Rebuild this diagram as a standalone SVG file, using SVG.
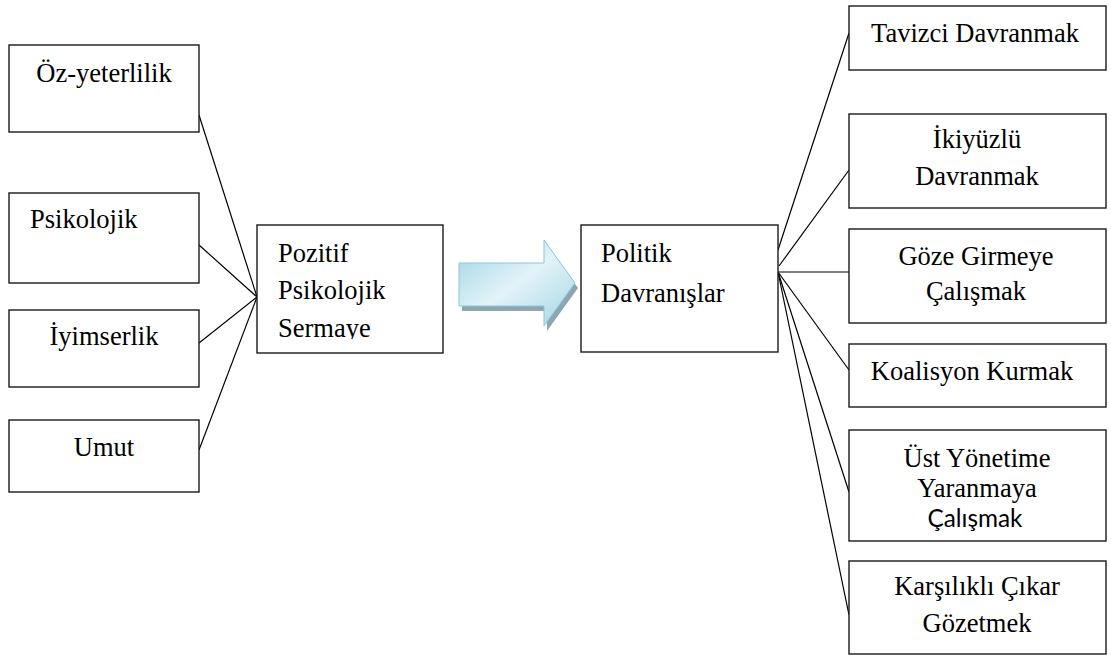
<svg xmlns="http://www.w3.org/2000/svg" width="1111" height="655" viewBox="0 0 1111 655">
  <style>
    .box { fill: #ffffff; stroke: #1a1a1a; stroke-width: 1.4; }
    .lnk { stroke: #000000; stroke-width: 1.2; fill: none; }
    .t { font-family: "Liberation Serif", "Times New Roman", serif; font-size: 26.5px; fill: #000000; }
    .c { text-anchor: middle; }
    .s { font-family: Lato, "Open Sans", "Liberation Sans", sans-serif; font-size: 25px; fill: #000000; text-anchor: middle; }
  </style>
  <defs>
    <linearGradient id="arrowFill" x1="0" y1="0" x2="1" y2="1">
      <stop offset="0" stop-color="#9fd3e4"/>
      <stop offset="0.5" stop-color="#e3f3f8"/>
      <stop offset="1" stop-color="#a3d5e5"/>
    </linearGradient>
    <clipPath id="sermayeClip">
      <rect x="258" y="226" width="184" height="113"/>
    </clipPath>
  </defs>

  <!-- connectors -->
  <g id="connectors">
    <line class="lnk" x1="199" y1="115" x2="257" y2="297"/>
    <line class="lnk" x1="199" y1="245" x2="257" y2="297"/>
    <line class="lnk" x1="199" y1="343" x2="257" y2="297"/>
    <line class="lnk" x1="199" y1="450" x2="257" y2="297"/>

    <line class="lnk" x1="778" y1="250" x2="849" y2="33"/>
    <line class="lnk" x1="779" y1="266" x2="849" y2="170"/>
    <line class="lnk" x1="778" y1="272" x2="849" y2="272"/>
    <line class="lnk" x1="778" y1="272" x2="849" y2="370"/>
    <line class="lnk" x1="778" y1="272" x2="849" y2="492"/>
    <line class="lnk" x1="778" y1="272" x2="849" y2="615"/>
  </g>

  <!-- block arrow between the two main boxes -->
  <g id="flow-arrow">
    <polygon points="462,268 547,268 547,245 578,288 547,331 547,311 462,311" fill="#8ea6b0"/>
    <polygon points="459,263 544,263 544,240 575,283 544,326 544,306 459,306" fill="url(#arrowFill)" stroke="#8cc7da" stroke-width="1"/>
  </g>

  <!-- left-hand components -->
  <g id="oz-yeterlilik">
    <rect class="box" x="9" y="45" width="190" height="87"/>
    <text class="t c" x="104" y="82">Öz-yeterlilik</text>
  </g>
  <g id="psikolojik">
    <rect class="box" x="9" y="193" width="190" height="90"/>
    <text class="t" x="30" y="228">Psikolojik</text>
  </g>
  <g id="iyimserlik">
    <rect class="box" x="9" y="310" width="190" height="77"/>
    <text class="t c" x="104" y="345">İyimserlik</text>
  </g>
  <g id="umut">
    <rect class="box" x="9" y="420" width="190" height="72"/>
    <text class="t c" x="104" y="456">Umut</text>
  </g>

  <!-- central boxes -->
  <g id="pozitif-psikolojik-sermaye">
    <rect class="box" x="257" y="225" width="186" height="128"/>
    <text class="t" x="278" y="262">Pozitif</text>
    <text class="t" x="278" y="299">Psikolojik</text>
    <g clip-path="url(#sermayeClip)">
      <text class="t" x="278" y="337">Sermaye</text>
    </g>
  </g>
  <g id="politik-davranislar">
    <rect class="box" x="581" y="225" width="197" height="127"/>
    <text class="t" x="601" y="262">Politik</text>
    <text class="t" x="601" y="302">Davranışlar</text>
  </g>

  <!-- right-hand behaviours -->
  <g id="tavizci">
    <rect class="box" x="849" y="6" width="257" height="64"/>
    <text class="t c" x="975" y="42">Tavizci Davranmak</text>
  </g>
  <g id="ikiyuzlu">
    <rect class="box" x="849" y="114" width="257" height="94"/>
    <text class="t c" x="977" y="148">İkiyüzlü</text>
    <text class="t c" x="977" y="185">Davranmak</text>
  </g>
  <g id="goze-girmeye">
    <rect class="box" x="849" y="229" width="257" height="94"/>
    <text class="t c" x="976" y="265">Göze Girmeye</text>
    <text class="t c" x="976" y="300">Çalışmak</text>
  </g>
  <g id="koalisyon">
    <rect class="box" x="849" y="344" width="257" height="63"/>
    <text class="t c" x="972" y="380">Koalisyon Kurmak</text>
  </g>
  <g id="ust-yonetime">
    <rect class="box" x="849" y="430" width="257" height="111"/>
    <text class="t c" x="977" y="467">Üst Yönetime</text>
    <text class="t c" x="977" y="497">Yaranmaya</text>
    <text class="s" x="975" y="527" textLength="95" lengthAdjust="spacingAndGlyphs">Çalışmak</text>
  </g>
  <g id="karsilikli-cikar">
    <rect class="box" x="849" y="561" width="257" height="93"/>
    <text class="t c" x="977" y="595">Karşılıklı Çıkar</text>
    <text class="t c" x="977" y="632">Gözetmek</text>
  </g>
</svg>
